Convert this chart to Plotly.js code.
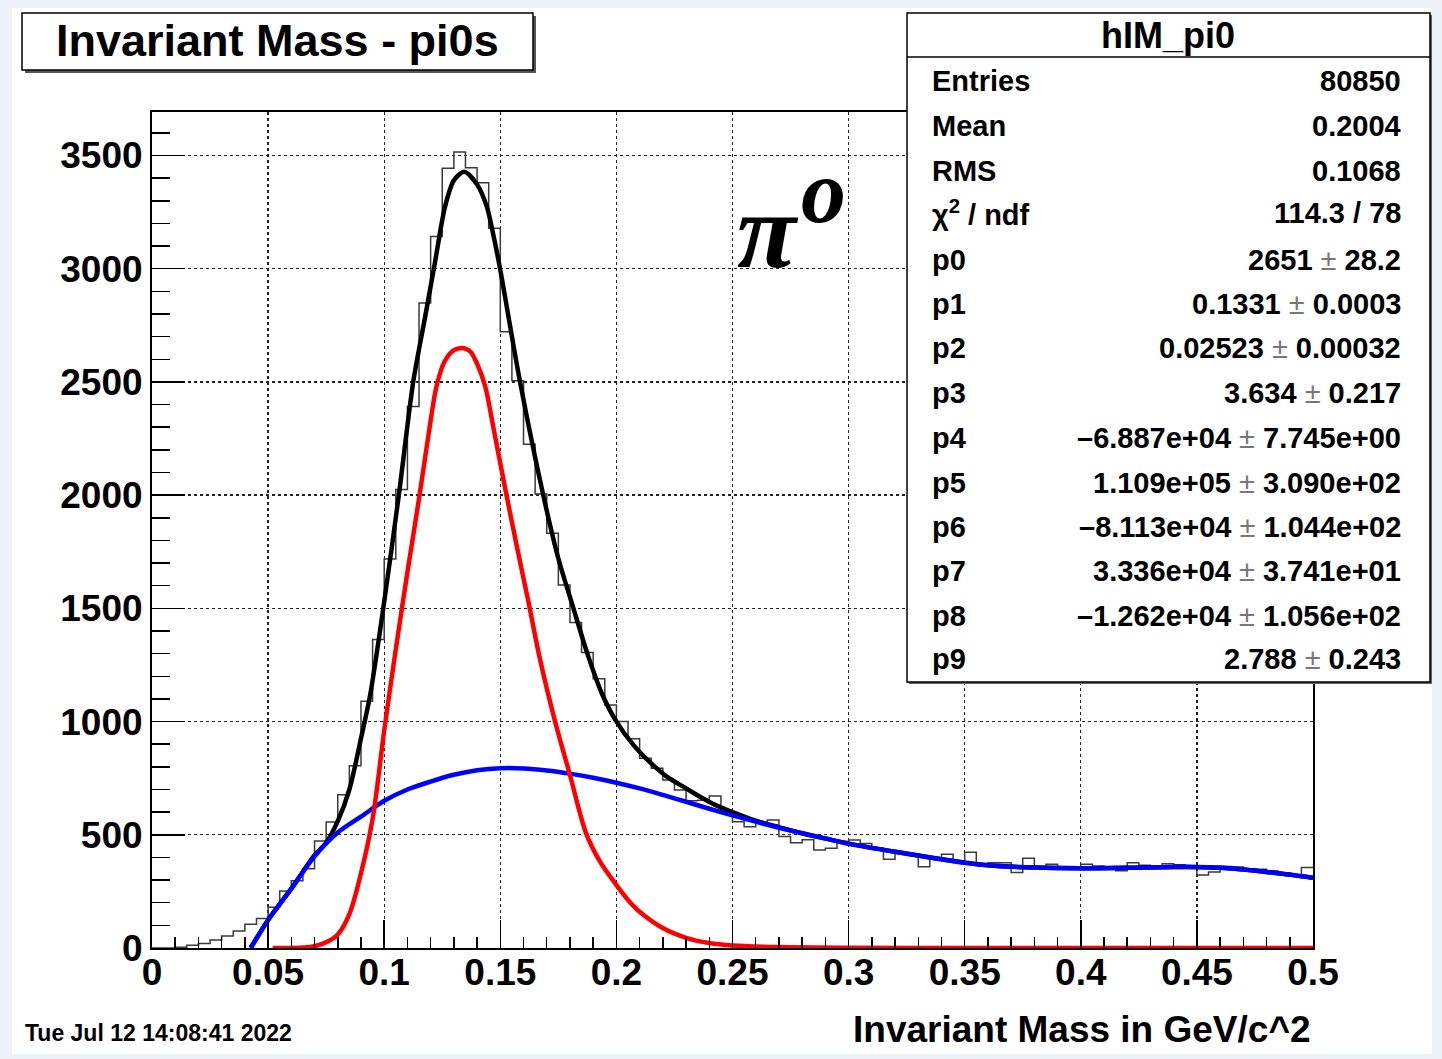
<!DOCTYPE html>
<html>
<head>
<meta charset="utf-8">
<script src="https://cdn.plot.ly/plotly-3.0.1.min.js"></script>
<style>
  html, body { margin: 0; padding: 0; background: #edf2f8; width: 1442px; height: 1059px; overflow: hidden; }
  #chart { position: absolute; left: 12px; top: 8px; width: 1420px; height: 1046px; background: #fff; }
</style>
</head>
<body>
<div id="chart"></div>
<script>
// ---------------- DATA ----------------
const binWidth = 0.005;            // 100 bins from 0 to 0.5
const histCounts = [
  0, 0, 3, 12, 20, 35, 53, 75, 105, 130,
  180, 252, 297, 350, 472, 556, 677, 805, 1090, 1362,
  1718, 2025, 2391, 2848, 3142, 3444, 3515, 3446, 3380, 3179,
  2722, 2505, 2225, 2005, 1832, 1603, 1438, 1305, 1189, 1073,
  1000, 924, 838, 794, 742, 698, 650, 652, 671, 602,
  558, 536, 551, 565, 492, 465, 478, 433, 440, 470,
  477, 462, 440, 392, 420, 410, 359, 395, 414, 380,
  423, 367, 377, 377, 333, 396, 359, 370, 352, 355,
  370, 362, 355, 341, 377, 365, 360, 372, 368, 362,
  322, 336, 360, 358, 350, 348, 340, 332, 320, 355
];

// total fit (black)
const totalX = [0.0425, 0.05, 0.06, 0.07, 0.075, 0.08, 0.085, 0.09, 0.094, 0.0996, 0.1063, 0.1125, 0.1175, 0.1219, 0.1262, 0.13, 0.1345, 0.14, 0.1442, 0.147, 0.1499, 0.1585, 0.1685, 0.175, 0.1815, 0.1875, 0.1937, 0.1994, 0.2073, 0.215, 0.2217, 0.23, 0.236, 0.243, 0.25, 0.26, 0.27, 0.28, 0.29, 0.3, 0.32, 0.34, 0.36, 0.38, 0.4, 0.42, 0.44, 0.46, 0.48, 0.5];
const totalY = [0, 124, 262, 410, 465, 560, 700, 925, 1120, 1500, 2000, 2500, 2780, 3030, 3274, 3390, 3428, 3372, 3274, 3150, 3000, 2500, 2000, 1720, 1500, 1300, 1125, 1010, 897, 815, 757, 705, 668, 630, 600, 562, 534, 507, 484, 461, 425, 392, 365, 355, 352, 354, 358, 354, 336, 310];

// signal (red)
const signalX = [0.052, 0.06, 0.065, 0.07, 0.075, 0.08, 0.085, 0.09, 0.095, 0.1, 0.105, 0.11, 0.115, 0.12, 0.1225, 0.126, 0.13, 0.1335, 0.137, 0.14, 0.1435, 0.147, 0.152, 0.157, 0.162, 0.167, 0.1736, 0.18, 0.187, 0.193, 0.2, 0.205, 0.21, 0.22, 0.23, 0.24, 0.25, 0.27, 0.3, 0.35, 0.4, 0.45, 0.5];
const signalY = [0, 0, 2, 8, 25, 60, 150, 330, 570, 960, 1320, 1660, 1985, 2330, 2480, 2590, 2640, 2650, 2635, 2580, 2480, 2300, 2035, 1780, 1535, 1280, 1000, 764, 505, 380, 278, 212, 160, 88, 45, 22, 11, 4, 1, 0, 0, 0, 0];

// background (blue)
const bkgX = [0.0425, 0.05, 0.06, 0.07, 0.08, 0.09, 0.1, 0.11, 0.12, 0.13, 0.14, 0.15, 0.16, 0.17, 0.18, 0.19, 0.2, 0.21, 0.22, 0.23, 0.24, 0.25, 0.26, 0.27, 0.28, 0.29, 0.3, 0.32, 0.34, 0.35, 0.36, 0.38, 0.4, 0.42, 0.44, 0.45, 0.46, 0.47, 0.48, 0.49, 0.5];
const bkgY = [0, 124, 262, 405, 510, 580, 650, 700, 735, 765, 785, 794, 793, 784, 770, 752, 730, 705, 676, 646, 615, 586, 558, 531, 506, 483, 460, 425, 392, 376, 365, 355, 352, 354, 358, 358, 354, 347, 336, 324, 310];

const xTickVals = [0, 0.05, 0.1, 0.15, 0.2, 0.25, 0.3, 0.35, 0.4, 0.45, 0.5];
const xTickText = ["0", "0.05", "0.1", "0.15", "0.2", "0.25", "0.3", "0.35", "0.4", "0.45", "0.5"];
const yTickVals = [0, 500, 1000, 1500, 2000, 2500, 3000, 3500];
const yTickText = ["0", "500", "1000", "1500", "2000", "2500", "3000", "3500"];

const statsTitle = "hIM_pi0";
const statsLabels = ["Entries", "Mean", "RMS", "χ<sup>2</sup> / ndf", "p0", "p1", "p2", "p3", "p4", "p5", "p6", "p7", "p8", "p9"];
const statsValues = ["80850", "0.2004", "0.1068", "114.3 / 78", "2651", "0.1331", "0.02523", "3.634", "–6.887e+04", "1.109e+05", "–8.113e+04", "3.336e+04", "–1.262e+04", "2.788"];
const statsErrors = ["", "", "", "", "28.2", "0.0003", "0.00032", "0.217", "7.745e+00", "3.090e+02", "1.044e+02", "3.741e+01", "1.056e+02", "0.243"];

const chartTitle = "Invariant Mass - pi0s";
const xTitle = "Invariant Mass in GeV/c^2";
const dateText = "Tue Jul 12 14:08:41 2022";

// ---------------- LAYOUT HELPERS (window px -> paper) ----------------
const PX0 = 152, PX1 = 1313, PY0 = 112, PY1 = 948;
const px = v => (v - PX0) / (PX1 - PX0);
const py = v => (PY1 - v) / (PY1 - PY0);

const FONT = "Liberation Sans, Arial, Helvetica, sans-serif";

// histogram as step line
const edges = histCounts.map((_, i) => i * binWidth);
edges.push(histCounts.length * binWidth);
const stepY = histCounts.slice();
stepY.push(histCounts[histCounts.length - 1]);

const traces = [
  { x: edges, y: stepY, type: 'scatter', mode: 'lines',
    line: { shape: 'hv', color: '#3a3a3a', width: 1.5 }, hoverinfo: 'skip' },
  { x: totalX, y: totalY, type: 'scatter', mode: 'lines',
    line: { shape: 'spline', smoothing: 0.8, color: '#000000', width: 4.5 } },
  { x: bkgX, y: bkgY, type: 'scatter', mode: 'lines',
    line: { shape: 'spline', smoothing: 0.8, color: '#0000ff', width: 4.5 } },
  { x: signalX, y: signalY, type: 'scatter', mode: 'lines',
    line: { shape: 'spline', smoothing: 0.9, color: '#ff0000', width: 4.5 } }
];

const annotations = [];
const shapes = [];

// title box
shapes.push({ type: 'rect', xref: 'paper', yref: 'paper', x0: px(25), x1: px(536), y0: py(73), y1: py(16),
  fillcolor: '#555', line: { width: 0 } });
shapes.push({ type: 'rect', xref: 'paper', yref: 'paper', x0: px(22), x1: px(533), y0: py(70), y1: py(13),
  fillcolor: '#fff', line: { color: '#000', width: 1.5 } });
annotations.push({ xref: 'paper', yref: 'paper', x: px(277), y: py(40), text: chartTitle, showarrow: false,
  xanchor: 'center', yanchor: 'middle', font: { family: FONT, size: 45, color: '#000', weight: 'bold' } });

// stats box
shapes.push({ type: 'rect', xref: 'paper', yref: 'paper', x0: px(909), x1: px(1432), y0: py(684), y1: py(15),
  fillcolor: '#666', line: { width: 0 } });
shapes.push({ type: 'rect', xref: 'paper', yref: 'paper', x0: px(907), x1: px(1430), y0: py(682), y1: py(13),
  fillcolor: '#fff', line: { color: '#000', width: 1.5 } });
shapes.push({ type: 'line', xref: 'paper', yref: 'paper', x0: px(907), x1: px(1430), y0: py(57), y1: py(57),
  line: { color: '#000', width: 1.5 } });
annotations.push({ xref: 'paper', yref: 'paper', x: px(1168), y: py(35), text: statsTitle, showarrow: false,
  xanchor: 'center', yanchor: 'middle', font: { family: FONT, size: 36, color: '#000', weight: 'bold' } });

const rowY = [80, 125, 170, 212, 259, 303, 347, 392, 437, 482, 526, 570, 615, 658];
statsLabels.forEach((lab, i) => {
  annotations.push({ xref: 'paper', yref: 'paper', x: px(930), y: py(rowY[i] + 1), text: lab, showarrow: false,
    xanchor: 'left', yanchor: 'middle', font: { family: FONT, size: 29, color: '#000', weight: 'bold' } });
  const val = statsErrors[i] ? statsValues[i] + " <span style='color:#777;font-weight:normal'>±</span> " + statsErrors[i] : statsValues[i];
  annotations.push({ xref: 'paper', yref: 'paper', x: px(1403), y: py(rowY[i] + 1), text: val, showarrow: false,
    xanchor: 'right', yanchor: 'middle', font: { family: FONT, size: 29, color: '#000', weight: 'bold' } });
});

// pi0 label
annotations.push({ xref: 'paper', yref: 'paper', x: px(735), y: py(230), text: "π", showarrow: false,
  xanchor: 'left', yanchor: 'middle',
  font: { family: "Liberation Serif, DejaVu Serif, serif", size: 108, color: '#000', weight: 'bold', style: 'italic' } });
annotations.push({ xref: 'paper', yref: 'paper', x: px(799), y: py(191), text: "o", showarrow: false,
  xanchor: 'left', yanchor: 'middle',
  font: { family: "Liberation Serif, DejaVu Serif, serif", size: 90, color: '#000', weight: 'bold', style: 'italic' } });

// x axis title & date
annotations.push({ xref: 'paper', yref: 'paper', x: px(1313), y: py(1029), text: xTitle, showarrow: false,
  xanchor: 'right', yanchor: 'middle', font: { family: FONT, size: 37, color: '#000', weight: 'bold' } });
annotations.push({ xref: 'paper', yref: 'paper', x: px(23), y: py(1033), text: dateText, showarrow: false,
  xanchor: 'left', yanchor: 'middle',
  font: { family: "Liberation Sans Narrow, Liberation Sans, Arial, sans-serif", size: 23, color: '#000', weight: 'bold' } });

const layout = {
  width: 1420, height: 1046,
  margin: { l: 140, r: 119, t: 104, b: 106 },
  paper_bgcolor: '#ffffff', plot_bgcolor: '#ffffff',
  showlegend: false,
  xaxis: {
    range: [0, 0.5], tickmode: 'array', tickvals: xTickVals, ticktext: xTickText,
    ticks: 'inside', ticklen: 28, tickwidth: 1.5, tickcolor: '#000',
    ticklabelstandoff: -9,
    showline: true, linecolor: '#000', linewidth: 2, mirror: true,
    showgrid: true, gridcolor: '#222', griddash: 'dot', gridwidth: 1.3,
    zeroline: false,
    minor: { dtick: 0.01, tick0: 0, ticks: 'inside', ticklen: 11, tickwidth: 1.5, tickcolor: '#000', showgrid: false },
    tickfont: { family: FONT, size: 37, color: '#000', weight: 'bold' }
  },
  yaxis: {
    range: [0, 3692], tickmode: 'array', tickvals: yTickVals, ticktext: yTickText,
    ticks: 'inside', ticklen: 33, tickwidth: 1.5, tickcolor: '#000',
    showline: true, linecolor: '#000', linewidth: 2, mirror: true,
    showgrid: true, gridcolor: '#222', griddash: 'dot', gridwidth: 1.3,
    zeroline: false,
    minor: { dtick: 100, tick0: 0, ticks: 'inside', ticklen: 18, tickwidth: 1.5, tickcolor: '#000', showgrid: false },
    tickfont: { family: FONT, size: 37, color: '#000', weight: 'bold' }
  },
  shapes: shapes,
  annotations: annotations
};

Plotly.newPlot('chart', traces, layout, { displayModeBar: false, staticPlot: true });
</script>
</body>
</html>
